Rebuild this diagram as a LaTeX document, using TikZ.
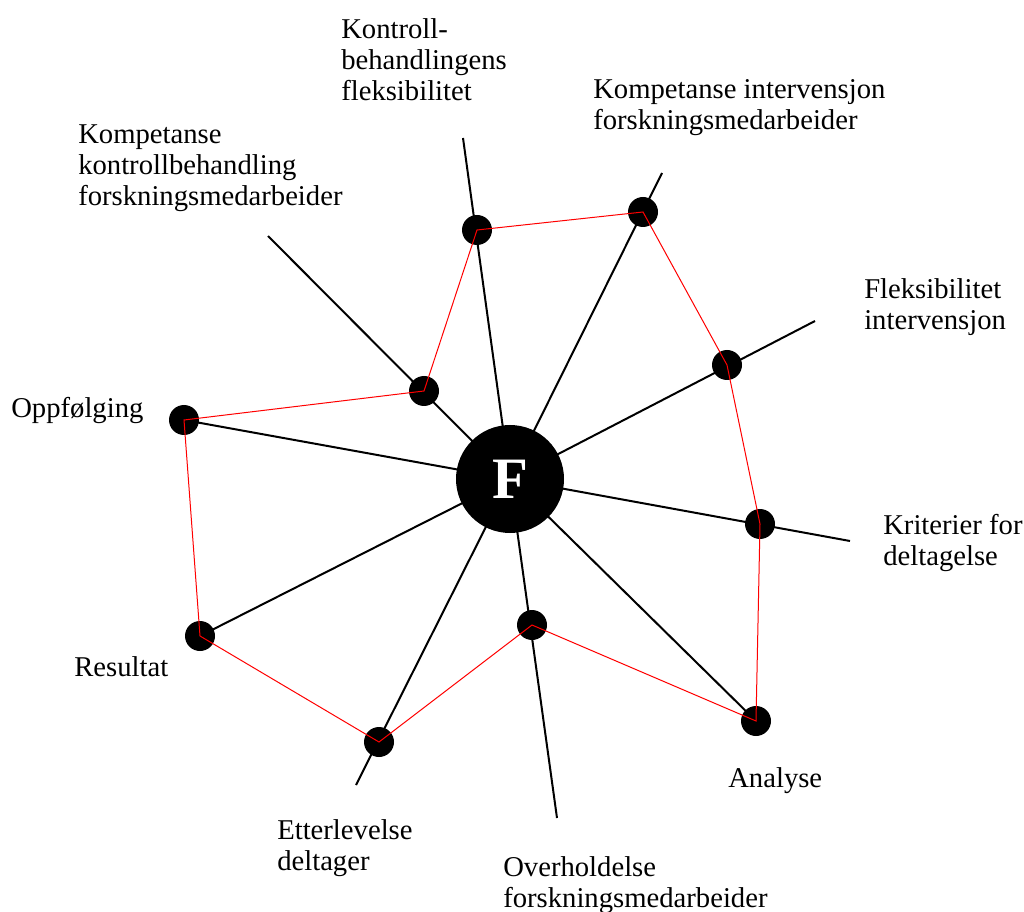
\documentclass[tikz,border=0pt]{standalone}
\usepackage{fontspec}
\setmainfont{Liberation Serif}
\begin{document}
\begin{tikzpicture}[x=0.75pt,y=-0.75pt,
  spoke/.style={line width=1.5pt,black},
  dot/.style={circle,fill=black,minimum size=22.5pt,inner sep=0pt},
  web/.style={red,line width=0.75pt,line join=miter},
  lbl/.style={anchor=west,align=left,inner sep=0pt,font=\fontsize{21.5}{23.25}\selectfont}]
\useasboundingbox (0,0) rectangle (1024,912);
\coordinate (c) at (510,479);
% spoke ends
\coordinate (e1) at (463,138);
\coordinate (e2) at (662,173);
\coordinate (e3) at (815,321);
\coordinate (e4) at (850,541);
\coordinate (e6) at (557,818);
\coordinate (e7) at (356,785);
\coordinate (e10) at (268,236);
% dot positions
\coordinate (p1) at (477,230);
\coordinate (p2) at (643,212);
\coordinate (p3) at (727,365);
\coordinate (p4) at (760,524);
\coordinate (p5) at (756,721);
\coordinate (p6) at (532,625);
\coordinate (p7) at (379,742);
\coordinate (p8) at (200,636);
\coordinate (p9) at (184,420);
\coordinate (p10) at (424,391);
% spokes
\foreach \i in {1,2,3,4,6,7,10} \draw[spoke] (c) -- (e\i);
\foreach \i in {5,8,9} \draw[spoke] (c) -- (p\i);
% dots
\foreach \i in {1,...,10} \node[dot] (d\i) at (p\i) {};
% red web
\draw[web] (d9.center) -- (d10.center) -- (d1.center) -- (d2.center) -- (d3.center) -- (d4.center) -- (d5.center) -- (d6.center) -- (d7.center) -- (d8.center) -- cycle;
% centre
\node[circle,fill=black,minimum size=81pt,inner sep=0pt,text=white,font=\fontsize{44}{44}\selectfont\bfseries] (F) at (c) {F};
% labels
\node[lbl] (l1) at (341,60) {Kontroll-\\behandlingens\\fleksibilitet};
\node[lbl] (l2) at (593,108) {Kompetanse intervensjon\\forskningsmedarbeider};
\node[lbl] (l10) at (78,168) {Kompetanse\\kontrollbehandling\\forskningsmedarbeider};
\node[lbl] (l3) at (864,307) {Fleksibilitet\\intervensjon};
\node[lbl] (l9) at (11,411) {Oppfølging};
\node[lbl] (l4) at (883,543) {Kriterier for\\deltagelse};
\node[lbl] (l8) at (74,667) {Resultat};
\node[lbl] (l5) at (728,781) {Analyse};
\node[lbl] (l7) at (277,848) {Etterlevelse\\deltager};
\node[lbl] (l6) at (503,885) {Overholdelse\\forskningsmedarbeider};
\end{tikzpicture}
\end{document}
